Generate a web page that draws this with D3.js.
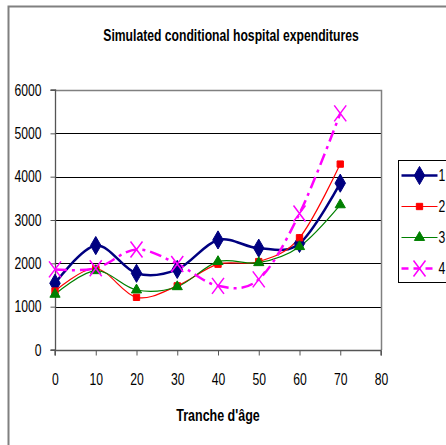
<!DOCTYPE html>
<html>
<head>
<meta charset="utf-8">
<script src="https://cdn.jsdelivr.net/npm/d3@7"></script>
<style>
	body { margin: 0; background: #fff; }
	svg { display: block; }
	.tick-label { font-family: "Liberation Sans", Arial, sans-serif; font-size: 16px; fill: #000; }
	.chart-title { font-family: "Liberation Sans", Arial, sans-serif; font-size: 16px; font-weight: bold; fill: #000; }
	.axis-title { font-family: "Liberation Sans", Arial, sans-serif; font-size: 16px; font-weight: bold; fill: #000; }
	.legend-text { font-family: "Liberation Sans", Arial, sans-serif; font-size: 16px; fill: #000; }
</style>
</head>
<body>
<script>

//Data
var ages = [0, 10, 20, 30, 40, 50, 60, 70];
var seriesNames = ["1", "2", "3", "4"];
var serie1 = [1540, 2410, 1770, 1860, 2540, 2350, 2460, 3850];
var serie2 = [1360, 1880, 1215, 1480, 1980, 2040, 2590, 4290];
var serie3 = [1285, 1830, 1385, 1460, 2040, 2015, 2385, 3350];
var serie4 = [1860, 1885, 2320, 1985, 1480, 1630, 3150, 5460];
var xTicks = [0, 10, 20, 30, 40, 50, 60, 70, 80];
var yTicks = [0, 1000, 2000, 3000, 4000, 5000, 6000];

var width = 446, height = 445;

var svg = d3.select("body").append("svg")
	.attr("width", width)
	.attr("height", height);

//Squeeze a text horizontally, to mimic the narrow font of the original
function condense(selection, factor) {
	selection.each(function() {
		var w = this.getComputedTextLength();
		d3.select(this)
			.attr("textLength", w * factor)
			.attr("lengthAdjust", "spacingAndGlyphs");
	});
}

//Outer chart frame
svg.append("path")
	.attr("d", "M8.5," + height + "V6.5H" + width)
	.style("fill", "none")
	.style("stroke", "#808080")
	.style("stroke-width", 2);

//Title
svg.append("text")
	.attr("class", "chart-title")
	.attr("x", 231)
	.attr("y", 41)
	.style("text-anchor", "middle")
	.text("Simulated conditional hospital expenditures")
	.call(condense, 0.76);

/////////////////////// Scales //////////////////////////

var x = d3.scaleLinear().domain([0, 80]).range([55, 381]);
var y = d3.scaleLinear().domain([0, 6000]).range([350, 90]);

//Gridlines
svg.selectAll(".grid-line")
	.data(yTicks.filter(function(d) { return d > 0 && d < 6000; }))
	.enter().append("line")
	.attr("class", "grid-line")
	.attr("x1", x(0))
	.attr("x2", x(80))
	.attr("y1", function(d) { return Math.round(y(d)) + 0.5; })
	.attr("y2", function(d) { return Math.round(y(d)) + 0.5; })
	.style("stroke", "#000")
	.style("stroke-width", 1);

//Plot area border (top & right)
svg.append("path")
	.attr("d", "M" + x(0) + "," + (y(6000) + 0.5) + "H" + (x(80) + 0.5) + "V" + y(0))
	.style("fill", "none")
	.style("stroke", "#808080")
	.style("stroke-width", 1.5);

//Axes
var yAxis = svg.append("g")
	.attr("transform", "translate(" + (x(0) + 0.5) + ",0)")
	.call(d3.axisLeft(y).tickValues(yTicks).tickSize(5).tickPadding(9).tickFormat(d3.format("d")));
var xAxis = svg.append("g")
	.attr("transform", "translate(0," + (y(0) + 0.5) + ")")
	.call(d3.axisBottom(x).tickValues(xTicks).tickSize(5).tickPadding(18).tickFormat(d3.format("d")));

[xAxis, yAxis].forEach(function(ax) {
	ax.select(".domain").style("stroke", "#555").style("stroke-width", 1.3);
	ax.selectAll(".tick line").style("stroke", "#555");
	ax.selectAll(".tick text").attr("class", "tick-label").attr("font-size", null).attr("font-family", null)
		.call(condense, 0.76);
});
yAxis.select(".domain").attr("d", "M-5," + y(6000) + "H0V" + y(0) + "H-5");
xAxis.select(".domain").attr("d", "M" + x(0) + ",5V0H" + x(80) + "V5");

//Axis title
svg.append("text")
	.attr("class", "axis-title")
	.attr("x", (x(0) + x(80)) / 2)
	.attr("y", 421)
	.style("text-anchor", "middle")
	.text("Tranche d'âge")
	.call(condense, 0.78);

/////////////////////// Series //////////////////////////

var series = [
	{ name: seriesNames[0], values: serie1, color: "#000080", width: 2.5, dash: null, marker: "diamond", size: 95 },
	{ name: seriesNames[1], values: serie2, color: "#ff0000", width: 1.2, dash: null, marker: "square", size: 40 },
	{ name: seriesNames[2], values: serie3, color: "#008000", width: 1.2, dash: null, marker: "triangle", size: 45 },
	{ name: seriesNames[3], values: serie4, color: "#ff00ff", width: 2.5, dash: "12,5,3,5", marker: "x", size: 0 }
];

var line = d3.line()
	.x(function(d, i) { return x(ages[i]); })
	.y(function(d) { return y(d); })
	.curve(d3.curveCatmullRom.alpha(0));

function drawMarker(g, s) {
	if (s.marker === "x") {
		g.append("path")
			.attr("d", "M-6,-8L6,8M6,-8L-6,8")
			.style("fill", "none")
			.style("stroke", s.color)
			.style("stroke-width", 1.5);
	} else {
		var type = s.marker === "diamond" ? d3.symbolDiamond : s.marker === "square" ? d3.symbolSquare : d3.symbolTriangle;
		g.append("path")
			.attr("d", d3.symbol().type(type).size(s.size))
			.style("fill", s.color)
			.style("stroke", s.color)
			.style("stroke-width", 1);
	}
}

series.forEach(function(s) {
	svg.append("path")
		.datum(s.values)
		.attr("d", line)
		.style("fill", "none")
		.style("stroke", s.color)
		.style("stroke-width", s.width)
		.style("stroke-dasharray", s.dash);
});

series.forEach(function(s) {
	s.values.forEach(function(v, i) {
		var g = svg.append("g").attr("transform", "translate(" + x(ages[i]) + "," + y(v) + ")");
		drawMarker(g, s);
	});
});

/////////////////////// Legend //////////////////////////

var legendWrapper = svg.append("g").attr("transform", "translate(398.5,160.5)");
legendWrapper.append("rect")
	.attr("width", 60)
	.attr("height", 122)
	.style("fill", "#fff")
	.style("stroke", "#000")
	.style("stroke-width", 1);

var legendRows = [15, 46, 77, 108];
var legendItem = legendWrapper.selectAll(".legend-item")
	.data(series)
	.enter().append("g")
	.attr("class", "legend-item")
	.attr("transform", function(d, i) { return "translate(0," + legendRows[i] + ")"; });
legendItem.append("line")
	.attr("x1", 3)
	.attr("x2", 39)
	.style("stroke", function(d) { return d.color; })
	.style("stroke-width", function(d) { return d.width; })
	.style("stroke-dasharray", function(d) { return d.dash ? "7,5" : null; });
legendItem.each(function(d) {
	var g = d3.select(this).append("g").attr("transform", "translate(21,0)");
	drawMarker(g, d);
});
legendItem.append("text")
	.attr("class", "legend-text")
	.attr("x", 40)
	.attr("dy", "0.35em")
	.text(function(d) { return d.name; })
	.call(condense, 0.76);

</script>
</body>
</html>
